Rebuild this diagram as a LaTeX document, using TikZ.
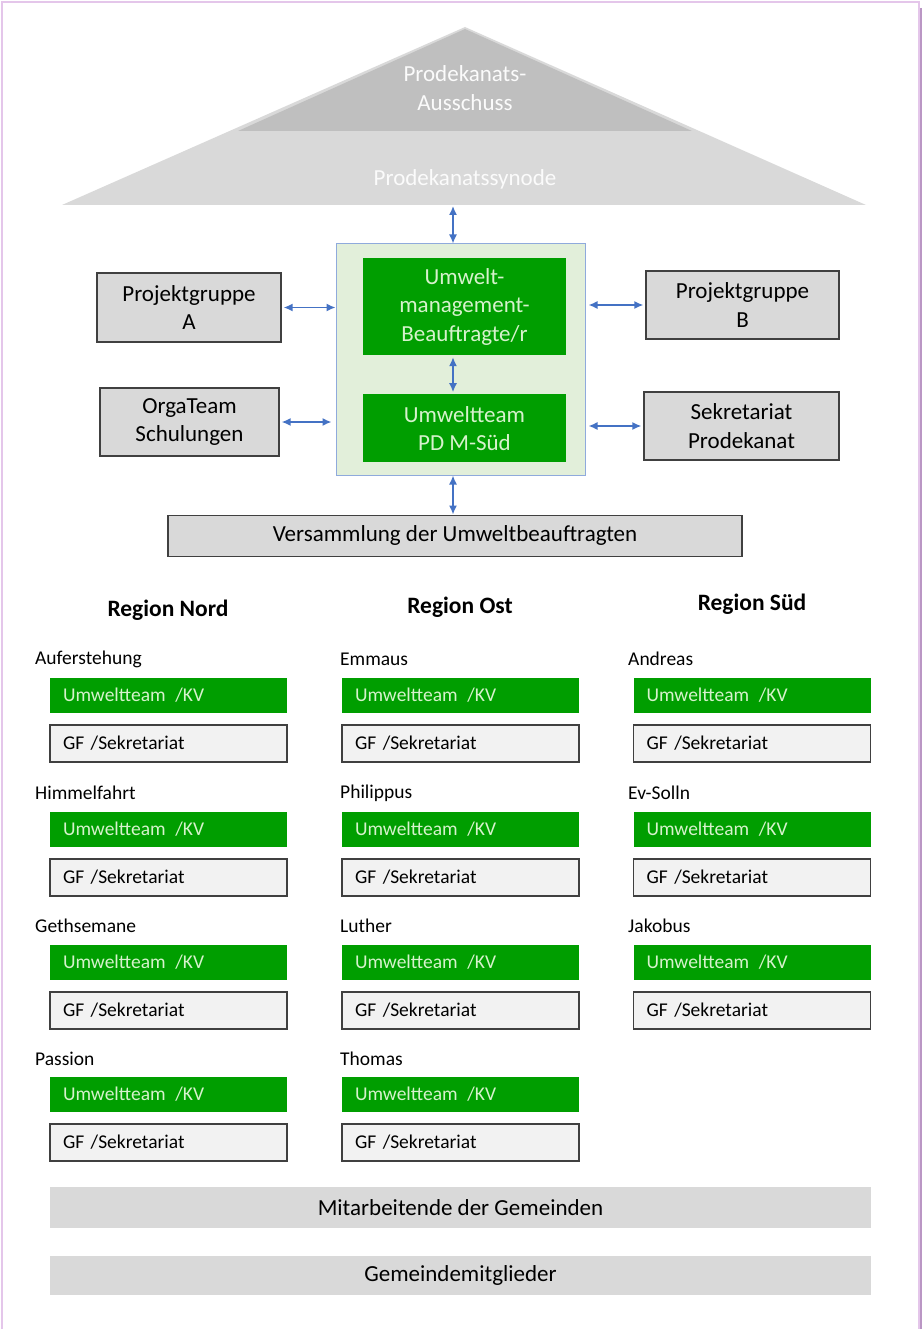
\documentclass[tikz,border=0pt]{standalone}
\usepackage{fontspec}
\setmainfont{Carlito}
\usetikzlibrary{positioning,arrows.meta}
\definecolor{umgreen}{RGB}{0,158,0}
\definecolor{umtext}{RGB}{214,242,204}
\definecolor{panelgreen}{RGB}{226,239,218}
\definecolor{panelblue}{RGB}{143,170,220}
\definecolor{boxgray}{RGB}{217,217,217}
\definecolor{pyrdark}{RGB}{191,191,191}
\definecolor{softgray}{RGB}{242,242,242}
\definecolor{edgegray}{RGB}{64,64,64}
\definecolor{arrowblue}{RGB}{68,114,196}
\definecolor{framelilac}{RGB}{228,198,234}
\definecolor{framedark}{RGB}{186,150,196}

\begin{document}
\begin{tikzpicture}[x=1pt,y=-1pt,
    every node/.style={font=\fontsize{23}{28.5}\selectfont},
    graybox/.style={draw=edgegray,line width=1.3pt,fill=boxgray,align=center,inner sep=0pt},
    greenbox/.style={fill=umgreen,text=umtext,align=center,inner sep=0pt},
    pyrtext/.style={text=white!97!gray,align=center,inner sep=0pt},
    kvbox/.style={fill=umgreen,text=umtext,font=\fontsize{19.5}{23}\selectfont,text width=211pt,inner xsep=13pt,inner ysep=0pt,minimum height=35pt,align=left},
    gfbox/.style={draw=edgegray,line width=1.3pt,fill=softgray,font=\fontsize{19.5}{23}\selectfont,text width=211pt,inner xsep=13pt,inner ysep=0pt,minimum height=37pt,align=left},
    parish/.style={anchor=west,inner sep=0pt,font=\fontsize{19.5}{23}\selectfont},
    region/.style={font=\bfseries\fontsize{23.5}{28}\selectfont},
    bar/.style={fill=boxgray,minimum width=821pt,inner sep=0pt},
    link/.style={{Latex[length=9pt,width=8pt]}-{Latex[length=9pt,width=8pt]},arrowblue,line width=1.5pt}]
  \useasboundingbox (0,0) rectangle (923,1329);
  \draw[framelilac,line width=2pt] (2,1340) -- (2,2) -- (919,2) -- (919,1340);
  \draw[framedark,line width=1.5pt] (921,8) -- (921,1340);

  % pyramid
  \fill[boxgray] (465,27) -- (866,205) -- (62,205) -- cycle;
  \fill[pyrdark] (465,29) -- (692,131) -- (238,131) -- cycle;
  \node[pyrtext] (ausschuss) at (465,88) {Prodekanats-\\Ausschuss};
  \node[pyrtext] (synode) at (465,179) {Prodekanatssynode};
  \coordinate (synbase) at (453,206);

  % centre
  \node[draw=panelblue,line width=1pt,fill=panelgreen,minimum width=249pt,minimum height=231pt,inner sep=0pt] (panel) at (460.5,359.5) {};
  \node[greenbox,minimum width=203pt,minimum height=97pt] (beauftragte) at (464.5,306.5) {Umwelt-\\management-\\Beauftragte/r};
  \node[greenbox,minimum width=203pt,minimum height=68pt,below=39pt of beauftragte] (umweltteam) {Umweltteam\\PD M-Süd};
  \node[graybox,minimum width=184pt,minimum height=69pt] (pga) at (189,307.5) {Projektgruppe\\A};
  \node[graybox,minimum width=179pt,minimum height=68pt] (orga) at (189.5,422) {OrgaTeam\\Schulungen};
  \node[graybox,minimum width=193pt,minimum height=68pt] (pgb) at (742.5,305) {Projektgruppe\\B};
  \node[graybox,minimum width=195pt,minimum height=68pt] (sekretariat) at (741.5,426) {Sekretariat\\Prodekanat};
  \node[graybox,minimum width=574pt,minimum height=41pt,below=39pt of panel,xshift=-5.5pt] (versammlung) {Versammlung der Umweltbeauftragten};

  \draw[link] (synbase) -- (synbase |- panel.north);
  \draw[link,shorten <=2pt,shorten >=2pt] (beauftragte.south -| synbase) -- (umweltteam.north -| synbase);
  \draw[link] (panel.south -| synbase) -- (versammlung.north -| synbase);
  \draw[link,shorten <=2pt] (pga.east) -- (pga.east -| panel.west);
  \draw[link,shorten <=2pt,shorten >=4pt] (orga.east) -- (orga.east -| panel.west);
  \draw[link,shorten <=3pt,shorten >=2pt] (pgb.west -| panel.east) -- (pgb.west);
  \draw[link,shorten <=3pt,shorten >=2pt] (sekretariat.west -| panel.east) -- (sekretariat.west);

  % regions
  \node[region] (nord) at (168,610) {Region Nord};
  \node[region] (ost) at (460,607) {Region Ost};
  \node[region] (sued) at (752,604) {Region Süd};

  % Region Nord
  \node[parish] (auflabel) at (35,659) {Auferstehung};
  \node[kvbox] (aufkv) at (168.5,695.5) {Umweltteam\ \,/KV};
  \node[gfbox,below=11pt of aufkv] (aufgf) {GF /Sekretariat};
  \node[parish] (himlabel) at (35,793) {Himmelfahrt};
  \node[kvbox] (himkv) at (168.5,829.5) {Umweltteam\ \,/KV};
  \node[gfbox,below=11pt of himkv] (himgf) {GF /Sekretariat};
  \node[parish] (getlabel) at (35,926) {Gethsemane};
  \node[kvbox] (getkv) at (168.5,962.5) {Umweltteam\ \,/KV};
  \node[gfbox,below=11pt of getkv] (getgf) {GF /Sekretariat};
  \node[parish] (paslabel) at (35,1059) {Passion};
  \node[kvbox] (paskv) at (168.5,1094.5) {Umweltteam\ \,/KV};
  \node[gfbox,below=11pt of paskv] (pasgf) {GF /Sekretariat};

  % Region Ost
  \node[parish] (emmlabel) at (340,659) {Emmaus};
  \node[kvbox] (emmkv) at (460.5,695.5) {Umweltteam\ \,/KV};
  \node[gfbox,below=11pt of emmkv] (emmgf) {GF /Sekretariat};
  \node[parish] (philabel) at (340,793) {Philippus};
  \node[kvbox] (phikv) at (460.5,829.5) {Umweltteam\ \,/KV};
  \node[gfbox,below=11pt of phikv] (phigf) {GF /Sekretariat};
  \node[parish] (lutlabel) at (340,926) {Luther};
  \node[kvbox] (lutkv) at (460.5,962.5) {Umweltteam\ \,/KV};
  \node[gfbox,below=11pt of lutkv] (lutgf) {GF /Sekretariat};
  \node[parish] (tholabel) at (340,1059) {Thomas};
  \node[kvbox] (thokv) at (460.5,1094.5) {Umweltteam\ \,/KV};
  \node[gfbox,below=11pt of thokv] (thogf) {GF /Sekretariat};

  % Region Sued
  \node[parish] (andlabel) at (628,659) {Andreas};
  \node[kvbox] (andkv) at (752,695.5) {Umweltteam\ \,/KV};
  \node[gfbox,below=11pt of andkv] (andgf) {GF /Sekretariat};
  \node[parish] (sollabel) at (628,793) {Ev-Solln};
  \node[kvbox] (solkv) at (752,829.5) {Umweltteam\ \,/KV};
  \node[gfbox,below=11pt of solkv] (solgf) {GF /Sekretariat};
  \node[parish] (jaklabel) at (628,926) {Jakobus};
  \node[kvbox] (jakkv) at (752,962.5) {Umweltteam\ \,/KV};
  \node[gfbox,below=11pt of jakkv] (jakgf) {GF /Sekretariat};

  % bottom
  \node[bar,minimum height=41pt] (mitarbeitende) at (460.5,1207.5) {Mitarbeitende der Gemeinden};
  \node[bar,minimum height=39pt,below=28pt of mitarbeitende] (mitglieder) {Gemeindemitglieder};
\end{tikzpicture}
\end{document}
